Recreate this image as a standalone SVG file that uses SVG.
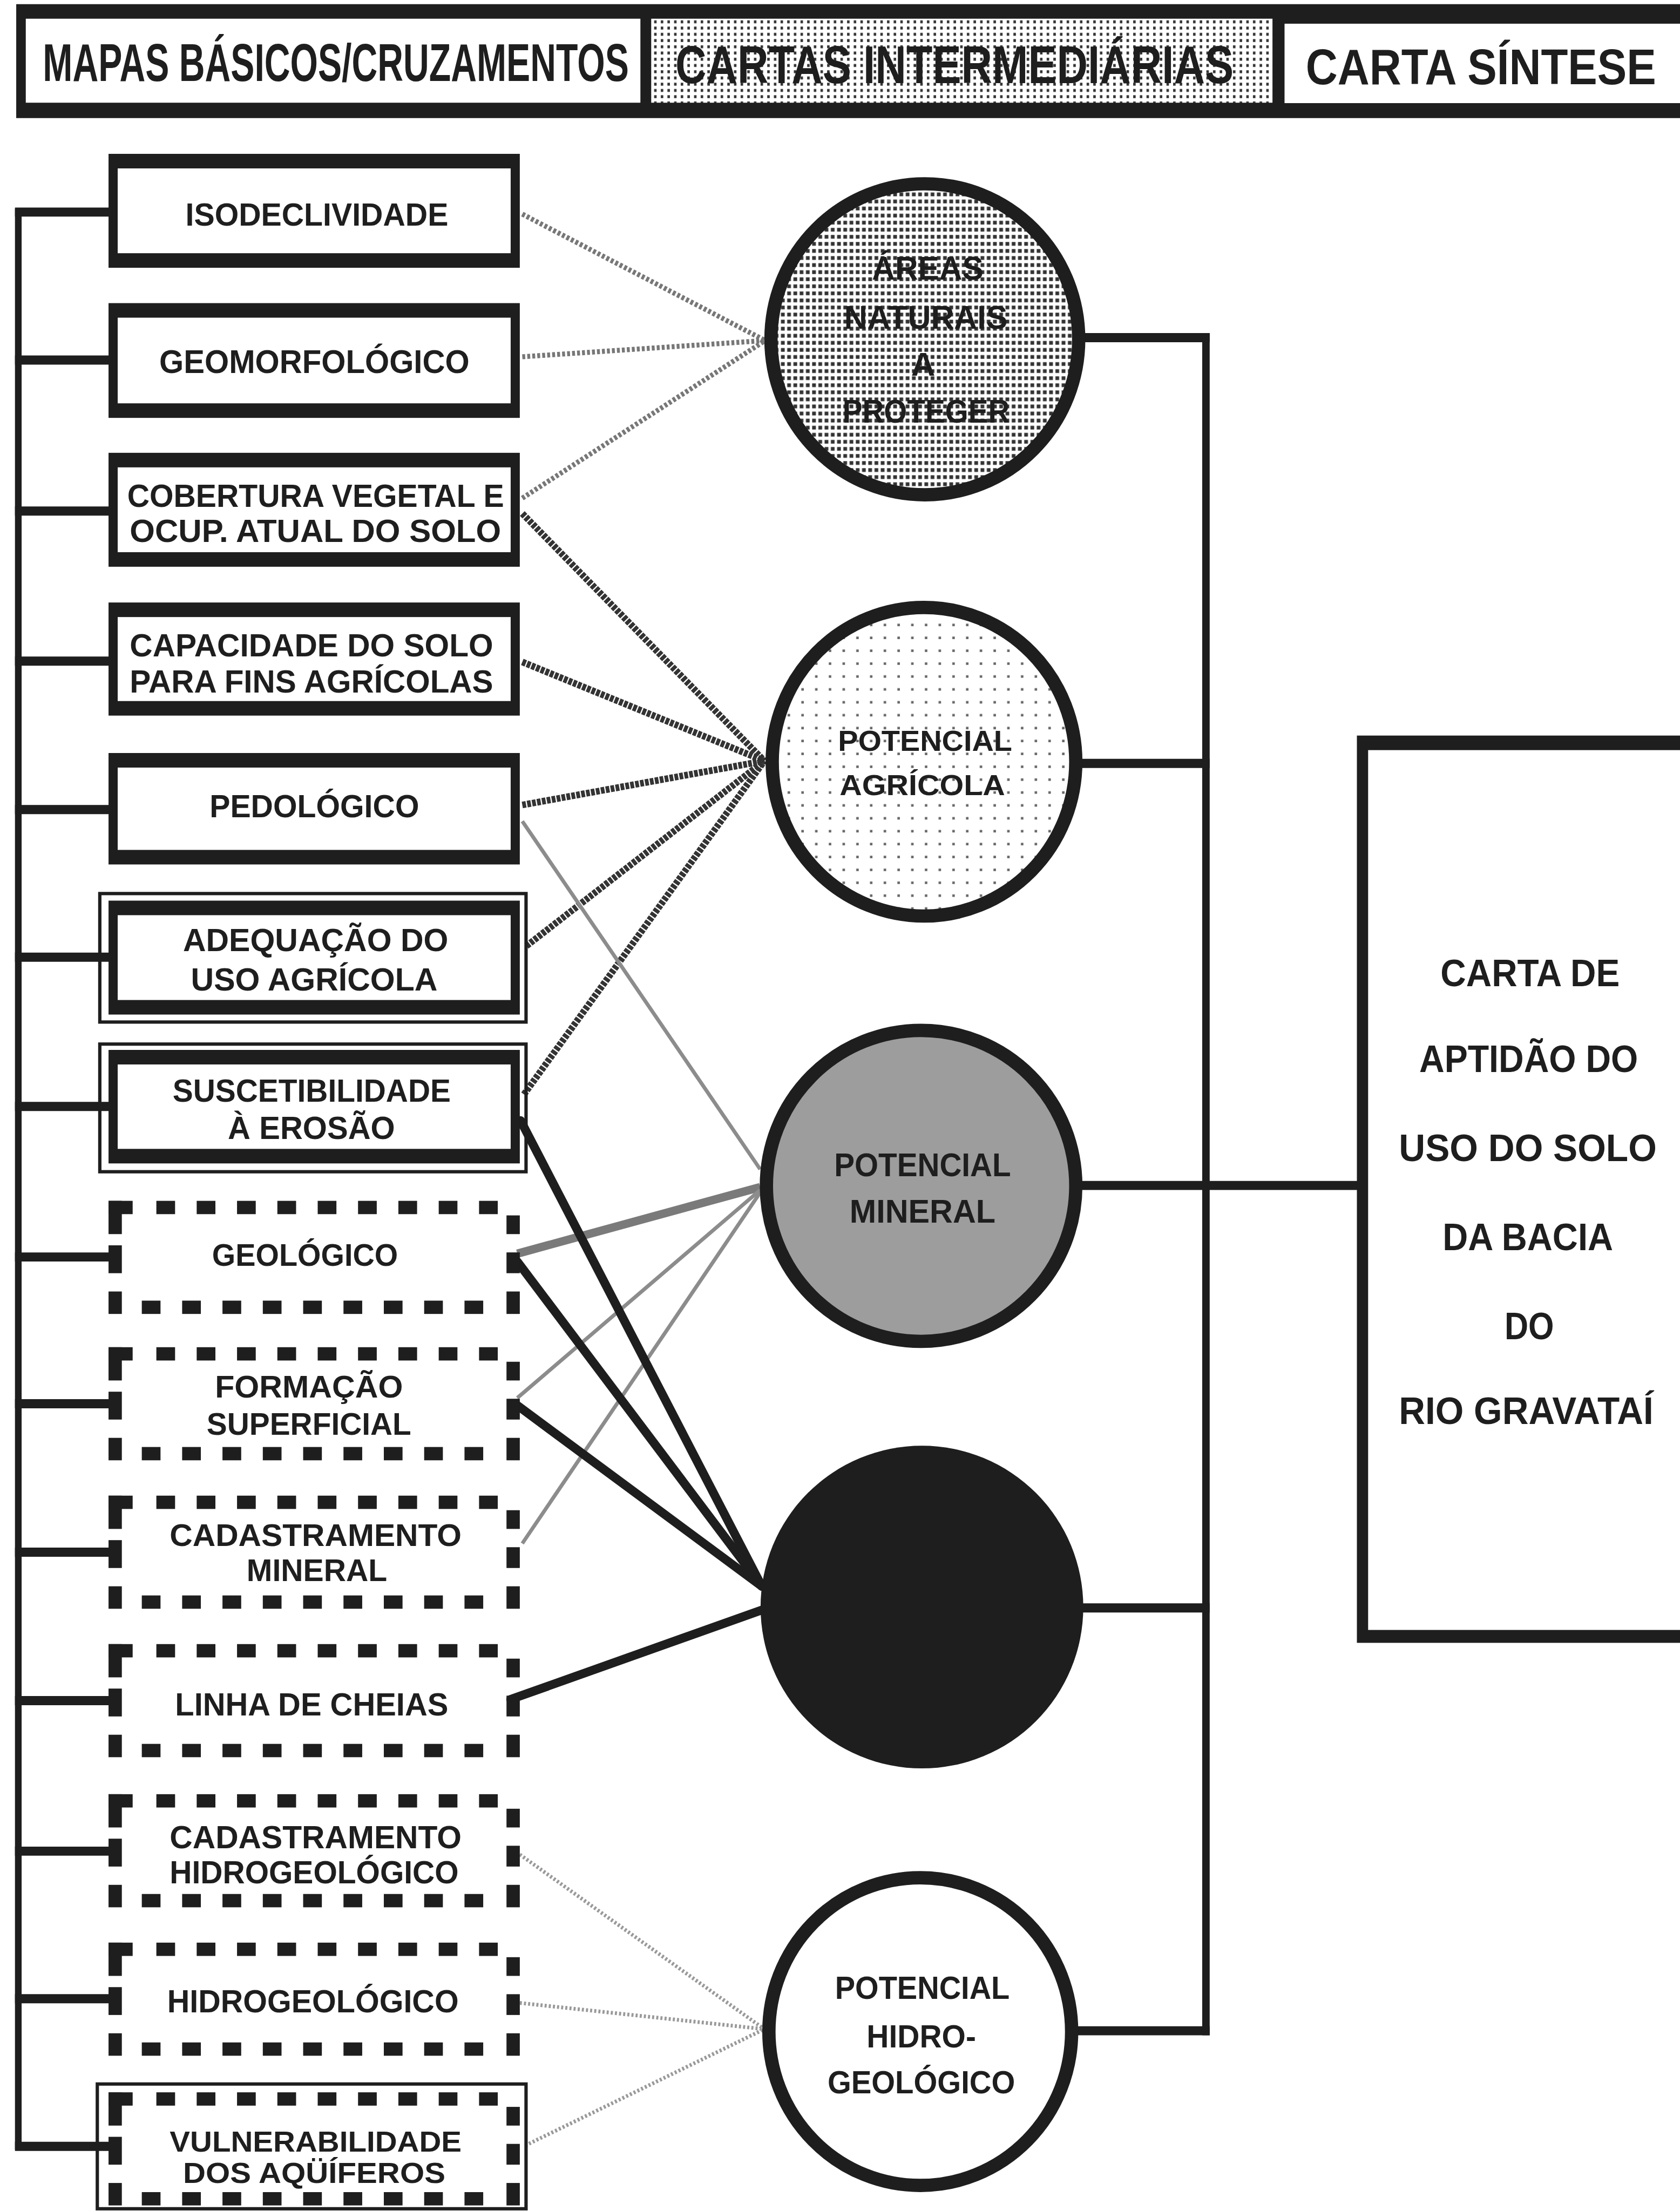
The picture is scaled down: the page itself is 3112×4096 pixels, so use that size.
<svg xmlns="http://www.w3.org/2000/svg" xmlns:xlink="http://www.w3.org/1999/xlink" width="3112" height="4096" viewBox="0 0 3112 4096">
<style>
.t{font-family:"Liberation Sans",Arial,sans-serif;font-weight:bold;fill:#1e1e1e}
.bx{fill:#1e1e1e}
.in{fill:#fff}
.thin{fill:none;stroke:#1e1e1e;stroke-width:8}
.bus{stroke:#1e1e1e;fill:none}
.la{stroke:#777;stroke-width:12;stroke-dasharray:7 5;fill:none}
.lg{stroke:#333;stroke-width:16;stroke-dasharray:9 3;fill:none}
.lm{stroke:#8c8c8c;stroke-width:9;fill:none}
.lmt{stroke:#7a7a7a;stroke-width:20;fill:none}
.lb{stroke:#1e1e1e;stroke-width:21;fill:none;stroke-linecap:round}
.lh{stroke:#999;stroke-width:9;stroke-dasharray:5 5;fill:none}
.circ{stroke:#1e1e1e;stroke-width:32}
</style>
<defs>
<pattern id="pArea" patternUnits="userSpaceOnUse" width="15" height="17"><rect width="15" height="17" fill="#fff"/><rect x="3" y="4" width="9" height="9" fill="#333"/></pattern>
<pattern id="pHead" patternUnits="userSpaceOnUse" width="16" height="15"><rect width="16" height="15" fill="#fff"/><rect x="5" y="4" width="6" height="7" fill="#333"/></pattern>
<pattern id="pAgri" patternUnits="userSpaceOnUse" width="33" height="31"><rect width="33" height="31" fill="#fff"/><rect x="13" y="12" width="6" height="6" fill="#666"/></pattern>
<g id="dbox" fill="#1e1e1e">
<rect x="0" y="0" width="58" height="32"/><rect x="0" y="0" width="32" height="80"/>
<rect x="115" y="0" width="45" height="32"/><rect x="212" y="0" width="45" height="32"/><rect x="309" y="0" width="45" height="32"/><rect x="406" y="0" width="45" height="32"/><rect x="503" y="0" width="45" height="32"/><rect x="600" y="0" width="45" height="32"/><rect x="697" y="0" width="45" height="32"/><rect x="794" y="0" width="45" height="32"/><rect x="891" y="0" width="45" height="32"/>
<rect x="957" y="35" width="32" height="45"/><rect x="957" y="124" width="32" height="50"/><rect x="957" y="218" width="32" height="54"/>
<rect x="0" y="107" width="32" height="67"/><rect x="0" y="218" width="32" height="54"/>
<rect x="80" y="240" width="45" height="32"/><rect x="177" y="240" width="45" height="32"/><rect x="274" y="240" width="45" height="32"/><rect x="371" y="240" width="45" height="32"/><rect x="468" y="240" width="45" height="32"/><rect x="565" y="240" width="45" height="32"/><rect x="662" y="240" width="45" height="32"/><rect x="759" y="240" width="45" height="32"/><rect x="856" y="240" width="45" height="32"/>
</g>
</defs>
<rect width="3112" height="4096" fill="#fff"/>
<g transform="scale(0.7703)">
<g id="header">
<rect class="bx" x="39" y="10" width="4100" height="274"/>
<rect class="in" x="62" y="45" width="1478" height="202"/>
<rect x="1566" y="45" width="1494" height="202" fill="url(#pHead)"/>
<rect class="in" x="3089" y="57" width="1100" height="191"/>
<text class="t" transform="translate(103,195) scale(0.671,1)" font-size="128">MAPAS BÁSICOS/CRUZAMENTOS</text>
<text class="t" transform="translate(1624,200) scale(0.808,1)" font-size="128">CARTAS INTERMEDIÁRIAS</text>
<text class="t" transform="translate(3140,203) scale(0.884,1)" font-size="120">CARTA SÍNTESE</text>
</g>
<g id="connectors">
<line class="bus" stroke-width="16" x1="44" y1="502" x2="44" y2="5170"/>
<g class="bus" stroke-width="22">
<line x1="36" y1="510" x2="265" y2="510"/>
<line x1="36" y1="866" x2="265" y2="866"/>
<line x1="36" y1="1229" x2="265" y2="1229"/>
<line x1="36" y1="1590" x2="265" y2="1590"/>
<line x1="36" y1="1947" x2="265" y2="1947"/>
<line x1="36" y1="2302" x2="265" y2="2302"/>
<line x1="36" y1="2661" x2="265" y2="2661"/>
<line x1="36" y1="3023" x2="265" y2="3023"/>
<line x1="36" y1="3376" x2="265" y2="3376"/>
<line x1="36" y1="3733" x2="265" y2="3733"/>
<line x1="36" y1="4090" x2="265" y2="4090"/>
<line x1="36" y1="4452" x2="265" y2="4452"/>
<line x1="36" y1="4807" x2="265" y2="4807"/>
<line x1="36" y1="5162" x2="265" y2="5162"/>
</g>
<line class="bus" stroke-width="18" x1="2900" y1="801" x2="2900" y2="4895"/>
<g class="bus" stroke-width="22">
<line x1="2600" y1="812" x2="2909" y2="812"/>
<line x1="2595" y1="1836" x2="2909" y2="1836"/>
<line x1="2595" y1="2851" x2="3280" y2="2851"/>
<line x1="2590" y1="3867" x2="2909" y2="3867"/>
<line x1="2585" y1="4884" x2="2909" y2="4884"/>
</g>
<line class="la" x1="1256" y1="515" x2="1840" y2="819"/>
<line class="la" x1="1256" y1="858" x2="1840" y2="819"/>
<line class="la" x1="1256" y1="1198" x2="1840" y2="819"/>
<line class="lg" x1="1256" y1="1235" x2="1838" y2="1830"/>
<line class="lg" x1="1256" y1="1592" x2="1838" y2="1830"/>
<line class="lg" x1="1256" y1="1936" x2="1838" y2="1830"/>
<line class="lg" x1="1266" y1="2275" x2="1838" y2="1830"/>
<line class="lg" x1="1260" y1="2632" x2="1838" y2="1830"/>
<line class="lm" x1="1256" y1="1975" x2="1828" y2="2812"/>
<line class="lmt" x1="1244" y1="3015" x2="1828" y2="2855"/>
<line class="lm" x1="1244" y1="3362" x2="1828" y2="2862"/>
<line class="lm" x1="1256" y1="3712" x2="1828" y2="2868"/>
<line class="lb" x1="1252" y1="2695" x2="1832" y2="3815"/>
<line class="lb" x1="1244" y1="3034" x2="1832" y2="3815"/>
<line class="lb" x1="1244" y1="3380" x2="1832" y2="3815"/>
<line class="lb" x1="1228" y1="4087" x2="1832" y2="3872"/>
<line class="lh" x1="1250" y1="4460" x2="1838" y2="4880"/>
<line class="lh" x1="1250" y1="4817" x2="1838" y2="4880"/>
<line class="lh" x1="1263" y1="5160" x2="1838" y2="4880"/>
</g>
<g id="n-isodeclividade">
<rect class="bx" x="261" y="370" width="989" height="274"/><rect class="in" x="283" y="405" width="945" height="204"/>
<text class="t" x="446" y="542" font-size="78" textLength="632" lengthAdjust="spacingAndGlyphs">ISODECLIVIDADE</text>
</g>
<g id="n-geomorfologico">
<rect class="bx" x="261" y="729" width="989" height="276"/><rect class="in" x="283" y="764" width="945" height="206"/>
<text class="t" x="383" y="897" font-size="80" textLength="746" lengthAdjust="spacingAndGlyphs">GEOMORFOLÓGICO</text>
</g>
<g id="n-cobertura">
<rect class="bx" x="261" y="1089" width="989" height="274"/><rect class="in" x="283" y="1124" width="945" height="204"/>
<text class="t" x="306" y="1219" font-size="78" textLength="906" lengthAdjust="spacingAndGlyphs">COBERTURA VEGETAL E</text>
<text class="t" x="312" y="1303" font-size="78" textLength="893" lengthAdjust="spacingAndGlyphs">OCUP. ATUAL DO SOLO</text>
</g>
<g id="n-capacidade">
<rect class="bx" x="261" y="1449" width="989" height="272"/><rect class="in" x="283" y="1484" width="945" height="202"/>
<text class="t" x="312" y="1579" font-size="76" textLength="874" lengthAdjust="spacingAndGlyphs">CAPACIDADE DO SOLO</text>
<text class="t" x="312" y="1666" font-size="76" textLength="874" lengthAdjust="spacingAndGlyphs">PARA FINS AGRÍCOLAS</text>
</g>
<g id="n-pedologico">
<rect class="bx" x="261" y="1811" width="989" height="268"/><rect class="in" x="283" y="1846" width="945" height="198"/>
<text class="t" x="504" y="1965" font-size="78" textLength="504" lengthAdjust="spacingAndGlyphs">PEDOLÓGICO</text>
</g>
<g id="n-adequacao">
<rect class="thin" x="240" y="2149" width="1025" height="309"/>
<rect class="bx" x="261" y="2166" width="989" height="274"/><rect class="in" x="283" y="2201" width="945" height="204"/>
<text class="t" x="440" y="2287" font-size="78" textLength="638" lengthAdjust="spacingAndGlyphs">ADEQUAÇÃO DO</text>
<text class="t" x="459" y="2382" font-size="78" textLength="593" lengthAdjust="spacingAndGlyphs">USO AGRÍCOLA</text>
</g>
<g id="n-suscetibilidade">
<rect class="thin" x="240" y="2511" width="1025" height="307"/>
<rect class="bx" x="261" y="2525" width="989" height="273"/><rect class="in" x="283" y="2560" width="945" height="203"/>
<text class="t" x="415" y="2650" font-size="78" textLength="669" lengthAdjust="spacingAndGlyphs">SUSCETIBILIDADE</text>
<text class="t" x="548" y="2739" font-size="78" textLength="402" lengthAdjust="spacingAndGlyphs">À EROSÃO</text>
</g>
<g id="n-geologico">
<use xlink:href="#dbox" x="261" y="2888"/>
<text class="t" x="510" y="3044" font-size="74" textLength="447" lengthAdjust="spacingAndGlyphs">GEOLÓGICO</text>
</g>
<g id="n-formacao">
<use xlink:href="#dbox" x="261" y="3240"/>
<text class="t" x="517" y="3361" font-size="74" textLength="452" lengthAdjust="spacingAndGlyphs">FORMAÇÃO</text>
<text class="t" x="497" y="3450" font-size="74" textLength="492" lengthAdjust="spacingAndGlyphs">SUPERFICIAL</text>
</g>
<g id="n-cadastramento-mineral">
<use xlink:href="#dbox" x="261" y="3597"/>
<text class="t" x="408" y="3718" font-size="74" textLength="702" lengthAdjust="spacingAndGlyphs">CADASTRAMENTO</text>
<text class="t" x="593" y="3803" font-size="74" textLength="338" lengthAdjust="spacingAndGlyphs">MINERAL</text>
</g>
<g id="n-linha-cheias">
<use xlink:href="#dbox" x="261" y="3954"/>
<text class="t" x="421" y="4126" font-size="76" textLength="657" lengthAdjust="spacingAndGlyphs">LINHA DE CHEIAS</text>
</g>
<g id="n-cadastramento-hidro">
<use xlink:href="#dbox" x="261" y="4315"/>
<text class="t" x="408" y="4445" font-size="76" textLength="702" lengthAdjust="spacingAndGlyphs">CADASTRAMENTO</text>
<text class="t" x="408" y="4529" font-size="76" textLength="695" lengthAdjust="spacingAndGlyphs">HIDROGEOLÓGICO</text>
</g>
<g id="n-hidrogeologico">
<use xlink:href="#dbox" x="261" y="4672"/>
<text class="t" x="402" y="4840" font-size="76" textLength="701" lengthAdjust="spacingAndGlyphs">HIDROGEOLÓGICO</text>
</g>
<g id="n-vulnerabilidade">
<rect class="thin" x="234" y="5012" width="1031" height="300"/>
<use xlink:href="#dbox" x="261" y="5032"/>
<text class="t" x="408" y="5174" font-size="70" textLength="702" lengthAdjust="spacingAndGlyphs">VULNERABILIDADE</text>
<text class="t" x="440" y="5250" font-size="70" textLength="631" lengthAdjust="spacingAndGlyphs">DOS AQÜÍFEROS</text>
</g>
<g id="n-areas-naturais">
<ellipse class="circ" cx="2224" cy="816" rx="370" ry="374" fill="url(#pArea)"/>
<text class="t" x="2097" y="672" font-size="80" textLength="268" lengthAdjust="spacingAndGlyphs">ÁREAS</text>
<text class="t" x="2030" y="791" font-size="80" textLength="393" lengthAdjust="spacingAndGlyphs">NATURAIS</text>
<text class="t" x="2191" y="903" font-size="80" textLength="58" lengthAdjust="spacingAndGlyphs">A</text>
<text class="t" x="2026" y="1016" font-size="80" textLength="402" lengthAdjust="spacingAndGlyphs">PROTEGER</text>
</g>
<g id="n-potencial-agricola">
<ellipse class="circ" cx="2222" cy="1832" rx="365" ry="371" fill="url(#pAgri)"/>
<text class="t" x="2015" y="1806" font-size="70" textLength="419" lengthAdjust="spacingAndGlyphs">POTENCIAL</text>
<text class="t" x="2019" y="1912" font-size="70" textLength="398" lengthAdjust="spacingAndGlyphs">AGRÍCOLA</text>
</g>
<g id="n-potencial-mineral">
<ellipse class="circ" cx="2215" cy="2852" rx="372" ry="374" fill="#9d9d9d"/>
<text class="t" x="2006" y="2829" font-size="80" textLength="425" lengthAdjust="spacingAndGlyphs">POTENCIAL</text>
<text class="t" x="2043" y="2941" font-size="80" textLength="351" lengthAdjust="spacingAndGlyphs">MINERAL</text>
</g>
<g id="n-black">
<ellipse cx="2217" cy="3865" rx="388" ry="388" fill="#1e1e1e"/>
</g>
<g id="n-potencial-hidro">
<ellipse class="circ" cx="2213" cy="4886" rx="364" ry="370" fill="#fff"/>
<text class="t" x="2008" y="4807" font-size="76" textLength="420" lengthAdjust="spacingAndGlyphs">POTENCIAL</text>
<text class="t" x="2084" y="4924" font-size="76" textLength="263" lengthAdjust="spacingAndGlyphs">HIDRO-</text>
<text class="t" x="1990" y="5034" font-size="76" textLength="451" lengthAdjust="spacingAndGlyphs">GEOLÓGICO</text>
</g>
<g id="n-carta-sintese">
<rect class="bx" x="3263" y="1769" width="900" height="2182"/>
<rect class="in" x="3290" y="1804" width="900" height="2116"/>
<text class="t" x="3464" y="2372" font-size="92" textLength="431" lengthAdjust="spacingAndGlyphs">CARTA DE</text>
<text class="t" x="3413" y="2578" font-size="92" textLength="526" lengthAdjust="spacingAndGlyphs">APTIDÃO DO</text>
<text class="t" x="3364" y="2793" font-size="92" textLength="620" lengthAdjust="spacingAndGlyphs">USO DO SOLO</text>
<text class="t" x="3469" y="3007" font-size="92" textLength="410" lengthAdjust="spacingAndGlyphs">DA BACIA</text>
<text class="t" x="3618" y="3221" font-size="92" textLength="119" lengthAdjust="spacingAndGlyphs">DO</text>
<text class="t" x="3364" y="3425" font-size="92" textLength="612" lengthAdjust="spacingAndGlyphs">RIO GRAVATAÍ</text>
</g>
</g>
</svg>
